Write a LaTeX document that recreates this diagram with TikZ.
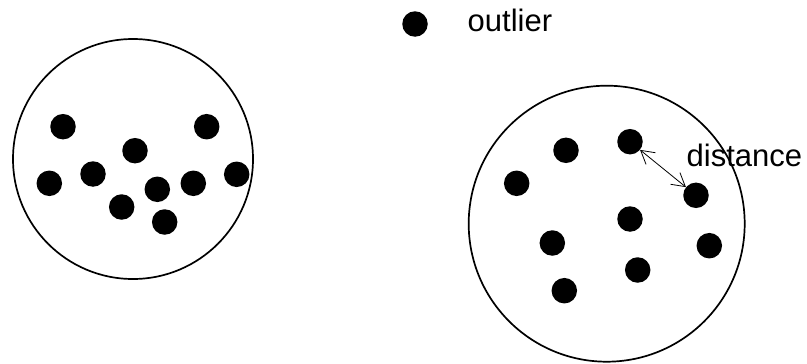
\documentclass[tikz,border=0pt]{standalone}
\usepackage{fontspec}
\setmainfont{Liberation Sans}
\usetikzlibrary{arrows.meta}
\tikzset{
  dot/.style={circle, fill=black, inner sep=0pt, minimum size=25.5pt},
  cluster/.style={circle, draw=black, line width=1.7pt, inner sep=0pt},
  lbl/.style={anchor=base west, inner sep=0pt, font=\fontsize{31}{37}\selectfont},
  distarrow/.style={line width=0.8pt, {Straight Barb[length=13pt,width=15pt]}-{Straight Barb[length=13pt,width=15pt]}}
}
\begin{document}
\begin{tikzpicture}[x=1pt,y=-1pt]
\useasboundingbox (0,0) rectangle (807,364);
% clusters
\node[cluster, minimum size=240pt] (c1) at (133,159) {};
\node[cluster, minimum size=276pt] (c2) at (606.7,223.7) {};
% left cluster points
\node[dot] (l1) at (63,126.7) {};
\node[dot] (l2) at (206.7,126.7) {};
\node[dot] (l3) at (135,150.7) {};
\node[dot] (l4) at (49.3,183.3) {};
\node[dot] (l5) at (93,174) {};
\node[dot] (l6) at (157.3,189.3) {};
\node[dot] (l7) at (193.3,183.3) {};
\node[dot] (l8) at (236.7,174.3) {};
\node[dot] (l9) at (121.7,207) {};
\node[dot] (l10) at (164.7,222) {};
% right cluster points
\node[dot] (r1) at (630,141.7) {};
\node[dot] (r2) at (566,150.3) {};
\node[dot] (r3) at (516.7,183.3) {};
\node[dot] (r4) at (696,195.3) {};
\node[dot] (r5) at (630,219) {};
\node[dot] (r6) at (552.3,243) {};
\node[dot] (r7) at (709.3,245.7) {};
\node[dot] (r8) at (637.7,270) {};
\node[dot] (r9) at (564.3,290.7) {};
% distance
\draw[distarrow] (r1) -- (r4);
\node[lbl] (dist) at (686.5,166.7) {distance};
% legend
\node[dot] (leg) at (415,24) {};
\node[lbl] (legt) at (467.5,31.7) {outlier};
\end{tikzpicture}
\end{document}
